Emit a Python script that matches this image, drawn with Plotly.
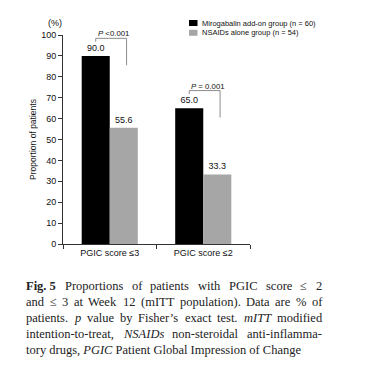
import plotly.graph_objects as go

categories = ["PGIC score ≤3", "PGIC score ≤2"]
series_names = ["Mirogabalin add-on group (n = 60)", "NSAIDs alone group (n = 54)"]
mirogabalin = [90.0, 65.0]
nsaids = [55.6, 33.3]
p_labels = ["<i>P</i> <0.001", "<i>P</i> = 0.001"]
y_ticks = [0, 10, 20, 30, 40, 50, 60, 70, 80, 90, 100]

colors = ["#000000", "#a6a6a6"]
OFF = 8  # default body margin of the html page
W, H = 382 - OFF, 386 - OFF
L, T = 63 - OFF, 35 - OFF
R = W - (250 - OFF)
B = H - (244.3 - OFF)
pw, ph = W - L - R, H - T - B


def px_x(px):
    return (px - OFF - L) / pw


def px_y(py):
    return (H - B - (py - OFF)) / ph


fig = go.Figure()
for name, vals, col in zip(series_names, [mirogabalin, nsaids], colors):
    fig.add_trace(go.Bar(
        x=categories, y=vals, name=name, marker=dict(color=col, line=dict(width=0)),
        text=[f"{v:.1f}" for v in vals], textposition="outside",
        textfont=dict(family="Liberation Sans", size=9, color="#111"),
        cliponaxis=False, showlegend=False,
    ))

shapes = []
annotations = []
# significance brackets
for i, (p, a, b) in enumerate(zip(p_labels, mirogabalin, nsaids)):
    top = a + 8.4
    xl, xr = i - 0.15, i + 0.18
    line = dict(color="#8c8c8c", width=1)
    shapes.append(dict(type="line", xref="x", yref="y", x0=xl, x1=xl, y0=a + 6.8, y1=top, line=line))
    shapes.append(dict(type="line", xref="x", yref="y", x0=xl, x1=xr, y0=top, y1=top, line=line))
    shapes.append(dict(type="line", xref="x", yref="y", x0=xr, x1=xr, y0=top, y1=a - 4.5, line=line))
    annotations.append(dict(x=xl, y=top, xref="x", yref="y", text=p, showarrow=False,
                            xanchor="left", yanchor="bottom", yshift=-2,
                            font=dict(family="Liberation Sans", size=7.8, color="#111")))

# legend (drawn manually to match the compact original layout)
for k, (name, col) in enumerate(zip(series_names, colors)):
    cy = 23 + 9.8 * k
    shapes.append(dict(type="rect", xref="paper", yref="paper",
                       x0=px_x(189), x1=px_x(197.5), y0=px_y(cy + 3), y1=px_y(cy - 3),
                       fillcolor=col, line=dict(width=0)))
    annotations.append(dict(x=px_x(199.5), y=px_y(cy), xref="paper", yref="paper", text=name,
                            showarrow=False, xanchor="left", yanchor="middle",
                            font=dict(family="Liberation Sans", size=7.5, color="#111")))

annotations.append(dict(x=px_x(55), y=px_y(23), xref="paper", yref="paper", text="(%)",
                        showarrow=False, xanchor="center", yanchor="middle",
                        font=dict(family="Liberation Sans", size=9, color="#111")))

# ---- caption (justified lines, words laid out individually) ----
CAP_SIZE = 12.5
CAP_LEFT, CAP_RIGHT = 24.3, 320
ROMAN = {" ": 250, "%": 833, "'": 180, "(": 333, ")": 333, ",": 250, "-": 333, ".": 250,
         "’": 333, "≤": 549, ":": 278,
         "A": 722, "B": 667, "C": 667, "D": 722, "E": 611, "F": 556, "G": 722, "H": 722, "I": 333,
         "J": 389, "K": 722, "L": 611, "M": 889, "N": 722, "O": 722, "P": 556, "Q": 722, "R": 667,
         "S": 556, "T": 611, "U": 722, "V": 722, "W": 944, "X": 722, "Y": 722, "Z": 611,
         "a": 444, "b": 500, "c": 444, "d": 500, "e": 444, "f": 333, "g": 500, "h": 500, "i": 278,
         "j": 278, "k": 500, "l": 278, "m": 778, "n": 500, "o": 500, "p": 500, "q": 500, "r": 333,
         "s": 389, "t": 278, "u": 500, "v": 500, "w": 722, "x": 500, "y": 500, "z": 444}
ITALIC = dict(ROMAN, **{"a": 500, "f": 278, "m": 722, "T": 556, "N": 667, "S": 500, "A": 611,
                        "P": 611, "M": 833})
BOLD = dict(ROMAN, **{"F": 611, "g": 500, "P": 611})


def word_width(token):
    table = ROMAN
    txt = token
    if token.startswith("<i>"):
        table, txt = ITALIC, token[3:-4]
    elif token.startswith("<b>"):
        table, txt = BOLD, token[3:-4]
    return sum(table.get(c, 500) for c in txt) * CAP_SIZE / 1000.0


caption_lines = [
    ["<b>Fig. 5</b>", "Proportions", "of", "patients", "with", "PGIC", "score", "≤", "2"],
    ["and", "≤", "3", "at", "Week", "12", "(mITT", "population).", "Data", "are", "%", "of"],
    ["patients.", "<i>p</i>", "value", "by", "Fisher’s", "exact", "test.", "<i>mITT</i>", "modified"],
    ["intention-to-treat,", "<i>NSAIDs</i>", "non-steroidal", "anti-inflamma-"],
]
last_line = "tory drugs, <i>PGIC</i> Patient Global Impression of Change"
cap_font = dict(family="Liberation Serif", size=CAP_SIZE, color="#222")

for j, words in enumerate(caption_lines):
    cy = 286 + 16 * j
    widths = [word_width(w) for w in words]
    gap = (CAP_RIGHT - CAP_LEFT - sum(widths)) / (len(words) - 1)
    x = CAP_LEFT
    for w, wd in zip(words, widths):
        annotations.append(dict(x=px_x(x), y=px_y(cy), xref="paper", yref="paper",
                                text=w, showarrow=False, xanchor="left", yanchor="middle",
                                font=cap_font))
        x += wd + gap
annotations.append(dict(x=px_x(CAP_LEFT), y=px_y(286 + 16 * 4), xref="paper", yref="paper",
                        text=last_line, showarrow=False, xanchor="left", yanchor="middle",
                        font=cap_font))

fig.update_layout(
    width=W, height=H, margin=dict(l=L, r=R, t=T, b=B, pad=0),
    paper_bgcolor="white", plot_bgcolor="white",
    barmode="group", bargap=0.4, bargroupgap=0,
    font=dict(family="Liberation Sans", size=9, color="#111"),
    shapes=shapes, annotations=annotations,
    xaxis=dict(showline=True, linecolor="#333", linewidth=1, ticks="outside", ticklen=4,
               tickcolor="#333", tickson="boundaries", showgrid=False,
               tickfont=dict(size=9, color="#111"), range=[-0.5, 1.5]),
    yaxis=dict(range=[0, 100], tickvals=y_ticks, showline=True, linecolor="#333", linewidth=1,
               ticks="outside", ticklen=4, tickcolor="#333", showgrid=False, zeroline=False,
               tickfont=dict(size=9, color="#111"),
               title=dict(text="Proportion of patients", font=dict(size=8.5, color="#111"), standoff=3)),
)

fig.write_html("out.html")
